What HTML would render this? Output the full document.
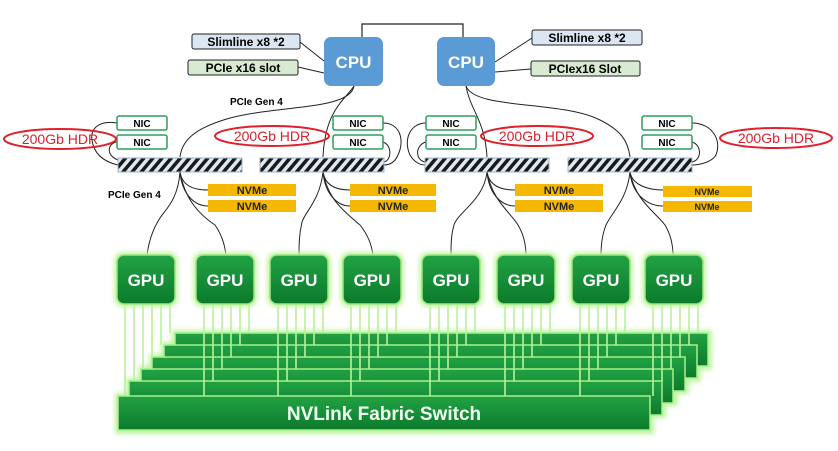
<!DOCTYPE html>
<html><head><meta charset="utf-8"><style>
html,body{margin:0;padding:0;background:#fff;}
svg{display:block;font-family:"Liberation Sans",sans-serif;}
</style></head><body>
<svg width="838" height="451" viewBox="0 0 838 451" xmlns="http://www.w3.org/2000/svg">
<defs>
<pattern id="h" width="7" height="7" patternUnits="userSpaceOnUse" patternTransform="rotate(40)">
<rect width="7" height="7" fill="#dfe9f3"/><rect width="3.5" height="7" fill="#1a1a1a"/></pattern>
<linearGradient id="g" x1="0" y1="0" x2="0" y2="1"><stop offset="0" stop-color="#22a244"/><stop offset="1" stop-color="#0c7a2c"/></linearGradient>
<filter id="glow" x="-20%" y="-30%" width="140%" height="160%"><feGaussianBlur stdDeviation="2.5"/></filter>
<g id="gpu">
<rect x="-3" y="-3" width="64" height="55" rx="9" fill="#c6f5a8" filter="url(#glow)"/>
<rect x="0" y="0" width="58" height="49" rx="7" fill="url(#g)" stroke="#9ce67e" stroke-width="1.5"/>
<text x="29" y="31" text-anchor="middle" font-size="17" font-weight="bold" fill="#fff">GPU</text>
</g>
<g id="gl" stroke="#b8f29c" stroke-width="1.6">
<line x1="8" y1="50" x2="8" y2="141"/><line x1="17" y1="50" x2="17" y2="126"/>
<line x1="26" y1="50" x2="26" y2="114"/><line x1="35" y1="50" x2="35" y2="102"/>
<line x1="44" y1="50" x2="44" y2="90"/><line x1="53" y1="50" x2="53" y2="78"/>
</g>
</defs>

<path d="M362,37 V24 H463 V37" fill="none" stroke="#222" stroke-width="1.2"/>
<rect x="324" y="37" width="59" height="49" rx="7" fill="#5b9bd5"/>
<text x="353.5" y="68" text-anchor="middle" font-size="17" font-weight="bold" fill="#fff">CPU</text>
<rect x="437" y="37" width="58" height="49" rx="7" fill="#5b9bd5"/>
<text x="466" y="68" text-anchor="middle" font-size="17" font-weight="bold" fill="#fff">CPU</text>

<g stroke="#222" stroke-width="1" fill="none">
<line x1="300" y1="42" x2="324" y2="61"/><line x1="298" y1="67" x2="324" y2="73"/>
<line x1="532" y1="38" x2="495" y2="62"/><line x1="531" y1="69" x2="495" y2="72"/>
<path d="M354,86 C350,110 280,105 230,118 C195,128 182,140 180,157"/>
<path d="M354,86 C345,100 325,110 323,157"/>
<path d="M466,86 C470,110 485,120 487,157"/>
<path d="M466,86 C475,110 560,100 600,120 C620,130 628,140 630,157"/>
<path d="M117,123 C100,120 90,128 92,140 C94,155 105,162 118,165"/>
<path d="M117,142 C108,143 105,155 118,160"/>
<path d="M383,123 C400,123 405,140 398,155 C395,162 390,165 384,165"/>
<path d="M383,142 C392,145 392,160 384,162"/>
<path d="M426,123 C410,123 403,140 410,155 C414,162 420,165 425,165"/>
<path d="M426,142 C415,145 415,160 425,162"/>
<path d="M692,123 C712,123 722,140 716,155 C712,162 700,165 692,165"/>
<path d="M692,142 C702,145 702,160 692,162"/>
<path d="M180,172 C182,185 192,190 208,190"/><path d="M180,172 C182,195 195,206 208,206"/>
<path d="M180,172 C178,200 165,210 160,218 C152,230 148,245 147,256"/>
<path d="M180,172 C185,200 200,215 215,225 C222,235 225,245 226,256"/>
<path d="M323,172 C325,185 335,190 350,190"/><path d="M323,172 C325,195 338,206 350,206"/>
<path d="M323,172 C320,200 305,212 302,222 C299,235 299,245 299,256"/>
<path d="M323,172 C328,200 345,212 360,225 C368,235 372,245 373,256"/>
<path d="M487,172 C489,185 500,190 515,190"/><path d="M487,172 C489,195 502,206 515,206"/>
<path d="M487,172 C484,200 458,212 454,225 C451,235 451,245 451,256"/>
<path d="M487,172 C492,200 510,212 518,225 C524,235 526,245 526,256"/>
<path d="M630,172 C632,185 648,190 663,190"/><path d="M630,172 C632,195 648,206 663,206"/>
<path d="M630,172 C627,200 612,212 606,225 C602,235 601,245 601,256"/>
<path d="M630,172 C635,200 655,212 665,225 C671,235 673,245 673,256"/>
</g>

<rect x="192" y="34" width="108" height="15" rx="2" fill="#dce6f2" stroke="#222"/>
<text x="246" y="46" text-anchor="middle" font-size="12" font-weight="bold">Slimline x8 *2</text>
<rect x="188" y="60" width="110" height="15" rx="2" fill="#d9ead3" stroke="#222"/>
<text x="243" y="72" text-anchor="middle" font-size="12" font-weight="bold">PCIe x16 slot</text>
<rect x="532" y="30" width="110" height="15" rx="2" fill="#dce6f2" stroke="#222"/>
<text x="587" y="42" text-anchor="middle" font-size="12" font-weight="bold">Slimline x8 *2</text>
<rect x="531" y="61" width="109" height="15" rx="2" fill="#d9ead3" stroke="#222"/>
<text x="585" y="73" text-anchor="middle" font-size="12" font-weight="bold">PCIex16 Slot</text>
<text x="230" y="105" font-size="10" font-weight="bold">PCIe Gen 4</text>
<text x="108" y="198" font-size="10" font-weight="bold">PCIe Gen 4</text>

<g fill="#fff" stroke="#2e9e5b" stroke-width="1.5">
<rect x="117" y="116" width="50" height="14" rx="2"/><rect x="117" y="135" width="50" height="14" rx="2"/>
<rect x="333" y="116" width="50" height="14" rx="2"/><rect x="333" y="135" width="50" height="14" rx="2"/>
<rect x="426" y="116" width="50" height="14" rx="2"/><rect x="426" y="135" width="50" height="14" rx="2"/>
<rect x="642" y="116" width="50" height="14" rx="2"/><rect x="642" y="135" width="50" height="14" rx="2"/>
</g>
<g font-size="10" font-weight="bold" text-anchor="middle">
<text x="142" y="127">NIC</text><text x="142" y="146">NIC</text>
<text x="358" y="127">NIC</text><text x="358" y="146">NIC</text>
<text x="451" y="127">NIC</text><text x="451" y="146">NIC</text>
<text x="667" y="127">NIC</text><text x="667" y="146">NIC</text>
</g>
<g fill="none" stroke="#e0202a" stroke-width="2">
<ellipse cx="60" cy="139" rx="56" ry="10"/><ellipse cx="272" cy="136" rx="57" ry="10"/>
<ellipse cx="537" cy="136" rx="56" ry="10"/><ellipse cx="776" cy="138" rx="56" ry="10"/>
</g>
<g fill="#d8232d" font-size="14" text-anchor="middle">
<text x="60" y="144">200Gb HDR</text><text x="272" y="141">200Gb HDR</text>
<text x="537" y="141">200Gb HDR</text><text x="776" y="143">200Gb HDR</text>
</g>
<g fill="url(#h)" stroke="#9db4c8" stroke-width="1">
<rect x="118" y="158" width="124" height="14"/><rect x="260" y="158" width="124" height="14"/>
<rect x="425" y="158" width="124" height="14"/><rect x="568" y="158" width="124" height="14"/>
</g>
<g fill="#f5b800">
<rect x="208" y="184" width="88" height="12"/><rect x="208" y="200" width="88" height="12"/>
<rect x="350" y="184" width="86" height="12"/><rect x="350" y="200" width="86" height="12"/>
<rect x="515" y="184" width="88" height="12"/><rect x="515" y="200" width="88" height="12"/>
<rect x="663" y="186" width="89" height="11"/><rect x="663" y="201" width="89" height="11"/>
</g>
<g font-size="11" font-weight="bold" text-anchor="middle" fill="#222">
<text x="252" y="194">NVMe</text><text x="252" y="210">NVMe</text>
<text x="393" y="194">NVMe</text><text x="393" y="210">NVMe</text>
<text x="559" y="194">NVMe</text><text x="559" y="210">NVMe</text>
<text x="707" y="195" font-size="9">NVMe</text><text x="707" y="210" font-size="9">NVMe</text>
</g>

<g fill="#bff3a2" filter="url(#glow)">
<rect x="172" y="330" width="540" height="40"/>
<rect x="161" y="342" width="540" height="40"/>
<rect x="149" y="354" width="540" height="40"/>
<rect x="138" y="366" width="540" height="40"/>
<rect x="126" y="378" width="540" height="40"/>
<rect x="115" y="393" width="539" height="41"/>
</g>
<g fill="url(#g)" stroke="#a8f08a" stroke-width="1.5">
<rect x="175" y="333" width="533" height="33"/>
<rect x="164" y="345" width="533" height="33"/>
<rect x="152" y="357" width="533" height="34"/>
<rect x="141" y="369" width="532" height="34"/>
<rect x="129" y="381" width="533" height="34"/>
<rect x="118" y="396" width="532" height="34"/>
</g>
<text x="384" y="420" text-anchor="middle" font-size="19" font-weight="bold" fill="#f0fff0">NVLink Fabric Switch</text>

<g transform="translate(0,255)">
<use href="#gl" x="117"/><use href="#gl" x="196"/><use href="#gl" x="270"/><use href="#gl" x="343"/>
<use href="#gl" x="422"/><use href="#gl" x="497"/><use href="#gl" x="572"/><use href="#gl" x="645"/>
<use href="#gpu" x="117"/><use href="#gpu" x="196"/><use href="#gpu" x="270"/><use href="#gpu" x="343"/>
<use href="#gpu" x="422"/><use href="#gpu" x="497"/><use href="#gpu" x="572"/><use href="#gpu" x="645"/>
</g>
</svg>
</body></html>
